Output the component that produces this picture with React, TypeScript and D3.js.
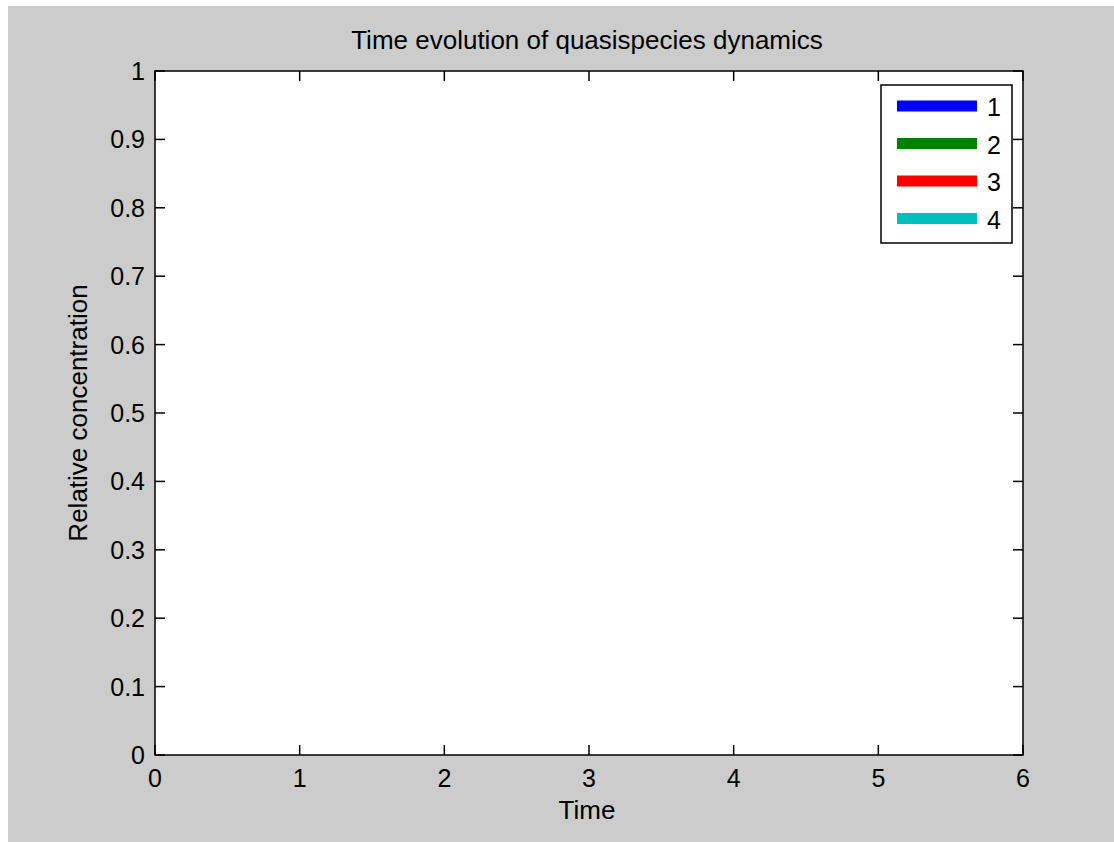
import React from "react";
import * as d3 from "d3";

// series shown in the legend (the axes hold no visible data)
const seriesNames = ["1", "2", "3", "4"];
const seriesColors = ["#0000ff", "#008000", "#ff0000", "#00bfbf"];
const seriesValues: number[][] = [[], [], [], []];
const timeValues: number[] = [];

const xTicks = [0, 1, 2, 3, 4, 5, 6];
const yTicks = [0, 0.1, 0.2, 0.3, 0.4, 0.5, 0.6, 0.7, 0.8, 0.9, 1];

const chartTitle = "Time evolution of quasispecies dynamics";
const xLabel = "Time";
const yLabel = "Relative concentration";

const W = 1114;
const H = 842;
const margin = { left: 155, right: 1023, top: 71, bottom: 755 };
const font = "'Liberation Sans', Arial, sans-serif";
const tickFs = 25;
const labelFs = 26;

const App = () => {
  const x = d3.scaleLinear().domain([0, 6]).range([margin.left, margin.right]);
  const y = d3.scaleLinear().domain([0, 1]).range([margin.bottom, margin.top]);
  const tickLen = 10;

  const line = d3
    .line<number>()
    .x((d, i) => x(timeValues[i]))
    .y(d => y(d));

  // legend geometry
  const lg = { x: 881, y: 85, w: 131, h: 158 };
  const rowY = (i: number) => 106 + i * 37.5;

  return (
    <svg
      width={W}
      height={H}
      style={{ position: "absolute", left: 0, top: 0 }}
      fontFamily={font}
    >
      <rect x={0} y={0} width={W} height={H} fill="#ffffff" />
      <rect x={8} y={6} width={W - 8} height={H - 6} fill="#cccccc" />
      <rect
        x={margin.left}
        y={margin.top}
        width={margin.right - margin.left}
        height={margin.bottom - margin.top}
        fill="#ffffff"
      />

      {seriesValues.map((vals, i) =>
        vals.length ? (
          <path key={i} d={line(vals) || ""} fill="none" stroke={seriesColors[i]} strokeWidth={2} />
        ) : null
      )}

      {/* ticks, inward on all four sides */}
      {xTicks.map(t => (
        <g key={"x" + t}>
          <line x1={x(t)} x2={x(t)} y1={margin.bottom} y2={margin.bottom - tickLen} stroke="#000" strokeWidth={1.5} />
          <line x1={x(t)} x2={x(t)} y1={margin.top} y2={margin.top + tickLen} stroke="#000" strokeWidth={1.5} />
          <text x={x(t)} y={margin.bottom + 32} textAnchor="middle" fontSize={tickFs} fill="#000">
            {d3.format("~g")(t)}
          </text>
        </g>
      ))}
      {yTicks.map(t => (
        <g key={"y" + t}>
          <line x1={margin.left} x2={margin.left + tickLen} y1={y(t)} y2={y(t)} stroke="#000" strokeWidth={1.5} />
          <line x1={margin.right} x2={margin.right - tickLen} y1={y(t)} y2={y(t)} stroke="#000" strokeWidth={1.5} />
          <text x={margin.left - 10} y={y(t) + 9} textAnchor="end" fontSize={tickFs} fill="#000">
            {d3.format("~g")(t)}
          </text>
        </g>
      ))}

      <rect
        x={margin.left}
        y={margin.top}
        width={margin.right - margin.left}
        height={margin.bottom - margin.top}
        fill="none"
        stroke="#000"
        strokeWidth={1.5}
      />

      <text x={(margin.left + margin.right) / 2 - 2} y={49} textAnchor="middle" fontSize={labelFs} fill="#000">
        {chartTitle}
      </text>
      <text x={(margin.left + margin.right) / 2 - 2} y={819} textAnchor="middle" fontSize={labelFs} fill="#000">
        {xLabel}
      </text>
      <text
        transform={`translate(87, ${(margin.top + margin.bottom) / 2}) rotate(-90)`}
        textAnchor="middle"
        fontSize={labelFs}
        fill="#000"
      >
        {yLabel}
      </text>

      {/* legend */}
      <rect x={lg.x} y={lg.y} width={lg.w} height={lg.h} fill="#ffffff" stroke="#000" strokeWidth={1.5} />
      {seriesNames.map((name, i) => (
        <g key={name}>
          <line x1={897} x2={977} y1={rowY(i)} y2={rowY(i)} stroke={seriesColors[i]} strokeWidth={11} />
          <text x={987} y={rowY(i) + 10} fontSize={tickFs} fill="#000">
            {name}
          </text>
        </g>
      ))}
    </svg>
  );
};

export default App;
